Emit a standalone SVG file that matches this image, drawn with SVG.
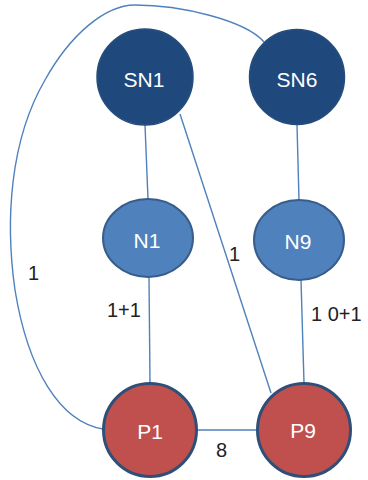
<svg xmlns="http://www.w3.org/2000/svg" width="368" height="480" viewBox="0 0 368 480">
  <style>
    .edge { fill: none; stroke: #4F81BD; stroke-width: 1.4; }
    .sn { fill: #1F497D; stroke: #274D7C; stroke-width: 1.5; }
    .n { fill: #4F81BD; stroke: #385D8A; stroke-width: 2; }
    .p { fill: #C0504D; stroke: #2F4F78; stroke-width: 3; }
    .label { font-family: "Liberation Sans", Arial, sans-serif; font-size: 21px; fill: #FFFFFF; text-anchor: middle; }
    .weight { font-family: "Liberation Sans", Arial, sans-serif; font-size: 20px; fill: #222222; }
  </style>
  <rect width="368" height="480" fill="#FFFFFF"/>

  <g id="connectors">
    <path class="edge" d="M145 125 L148 199"/>
    <path class="edge" d="M149 277 L150 383"/>
    <path class="edge" d="M180 114 L271 393"/>
    <path class="edge" d="M297 125 L299 200"/>
    <path class="edge" d="M301 280 L304 383"/>
    <path class="edge" d="M197 430 L257 430"/>
    <path class="edge" d="M103 429 C 60 422, 28 370, 15 290 C 5 220, 10 140, 45 80 C 70 35, 105 5, 135 5 C 180 5, 245 20, 264 42"/>
  </g>

  <g id="weights">
    <text class="weight" x="28" y="280">1</text>
    <text class="weight" x="229" y="261">1</text>
    <text class="weight" x="107" y="317">1+1</text>
    <text class="weight" x="311" y="321">1 0+1</text>
    <text class="weight" x="216" y="457">8</text>
  </g>

  <g id="SN1">
    <circle class="sn" cx="145" cy="77" r="48"/>
    <text class="label" x="144" y="87">SN1</text>
  </g>
  <g id="SN6">
    <circle class="sn" cx="297" cy="77" r="47.5"/>
    <text class="label" x="297" y="87">SN6</text>
  </g>
  <g id="N1">
    <ellipse class="n" cx="148" cy="238" rx="45" ry="39"/>
    <text class="label" x="147" y="248">N1</text>
  </g>
  <g id="N9">
    <ellipse class="n" cx="299" cy="240" rx="45" ry="40"/>
    <text class="label" x="298" y="249">N9</text>
  </g>
  <g id="P1">
    <circle class="p" cx="150" cy="430" r="46.5"/>
    <text class="label" x="150" y="439">P1</text>
  </g>
  <g id="P9">
    <circle class="p" cx="304" cy="430" r="46.5"/>
    <text class="label" x="303" y="438">P9</text>
  </g>
</svg>
